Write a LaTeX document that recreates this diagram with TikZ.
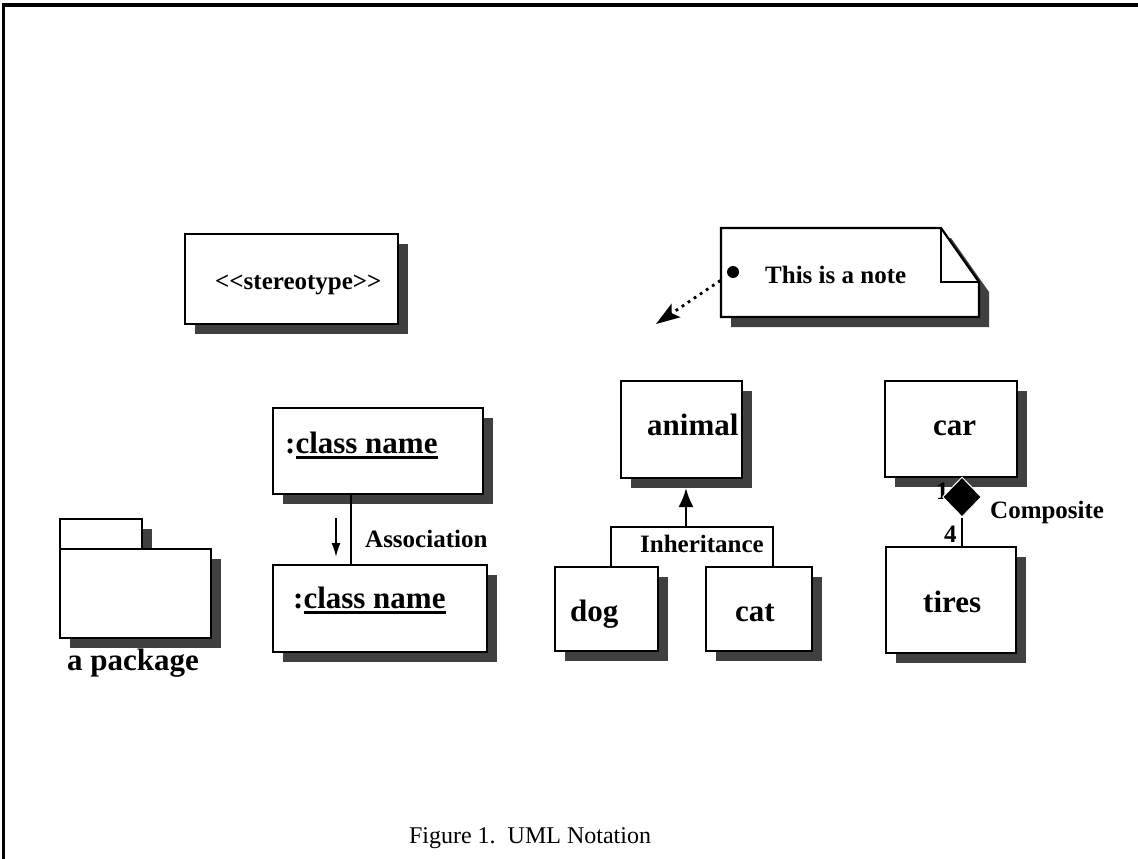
\documentclass[tikz,border=0pt]{standalone}
\usepackage{fontspec}
\newfontfamily\umlserif{Liberation Serif}
\usetikzlibrary{shadows,shapes.geometric,arrows.meta}

% bold label sizes and caption font
\newcommand\umlbig{\umlserif\bfseries\fontsize{31}{36}\selectfont}
\newcommand\umlmid{\umlserif\bfseries\fontsize{25}{30}\selectfont}
\newcommand\umlcap{\umlserif\fontsize{24}{28}\selectfont}
% heavy underline for object names
\newcommand\objname[1]{\setbox0=\hbox{#1}\leavevmode\rlap{\rule[-5.5pt]{\wd0}{2.2pt}}\box0}

\begin{document}
\begin{tikzpicture}[x=1pt,y=-1pt,
  umlshadow/.style={drop shadow={shadow xshift=10pt,shadow yshift=-10pt,fill=black!75,opacity=1}},
  box/.style={draw,line width=2.2pt,fill=white,inner sep=0pt,rectangle,umlshadow},
  big/.style={font=\umlbig,inner sep=0pt,anchor=base west},
  mid/.style={font=\umlmid,inner sep=0pt,anchor=base west},
  link/.style={line width=2pt}]
\useasboundingbox (0,0) rectangle (1138,859);

% page frame (top and left edges)
\draw[line width=3.5pt] (3.5,859) -- (3.5,5) -- (1138,5);

% stereotype
\node[box,minimum width=213pt,minimum height=90pt] (stereo) at (291.5,279) {};
\node[mid] (stereoText) at (215,289) {<\kern0pt<stereotype>\kern0pt>};

% note with folded corner
\draw[line width=2.2pt,fill=white,line join=miter,umlshadow]
  (721,228) -- (941,228) -- (979,282) -- (979,317) -- (721,317) -- cycle;
\draw[line width=2.2pt] (941,228) -- (941,282) -- (979,282);
\node[circle,fill=black,inner sep=0pt,minimum size=12pt] (noteDot) at (733,272) {};
\node[mid] (noteText) at (765,283) {This is a note};
\coordinate (noteTip) at (656,324);
\draw[line width=2.8pt,dash pattern=on 2.8pt off 4.5pt,shorten <=9pt,
  -{Stealth[length=24pt,width=16pt,inset=5pt]}] (noteDot) -- (noteTip);

% package
\node[box,minimum width=82pt,minimum height=30pt] (pkgTab) at (101,534) {};
\node[box,minimum width=151pt,minimum height=89pt] (pkgBody) at (135.5,593.5) {};
\node[big] (pkgLbl) at (67,670) {a package};

% objects with association
\node[box,minimum width=210pt,minimum height=86pt] (obj1) at (378,451) {};
\node[big] (obj1Text) at (285,453) {:\objname{class name}};
\node[box,minimum width=214pt,minimum height=87pt] (obj2) at (380,608.5) {};
\node[big] (obj2Text) at (293,608) {:\objname{class name}};
\coordinate (assocX) at (351,0);
\draw[link] (obj1.south -| assocX) -- (obj2.north -| assocX);
\coordinate (dirA) at (336,518);
\coordinate (dirB) at (336,557);
\draw[line width=1.8pt,-{Latex[length=14pt,width=9pt]}] (dirA) -- (dirB);
\node[mid] (assocLbl) at (365,547) {Association};

% generalization
\node[box,minimum width=121pt,minimum height=97pt] (animal) at (681.5,429.5) {};
\node[big] (animalText) at (647,435) {animal};
\node[box,minimum width=103pt,minimum height=84pt] (dog) at (606.5,609) {};
\node[big] (dogText) at (570,621) {dog};
\node[box,minimum width=106pt,minimum height=84pt] (cat) at (759,609) {};
\node[big] (catText) at (735,621) {cat};
\coordinate (inhL) at (611,527);
\coordinate (inhM) at (686,527);
\coordinate (inhR) at (773,527);
\draw[link] (dog.north -| inhL) -- (inhL) -- (inhR) -- (cat.north -| inhR);
\draw[link,shorten >=9pt,-{Latex[length=19pt,width=15pt]}] (inhM) -- (animal.south -| inhM);
\node[mid] (inhLbl) at (640,552) {Inheritance};

% composition
\node[box,minimum width=132pt,minimum height=96pt] (car) at (951,429) {};
\node[big] (carText) at (933,435) {car};
\node[box,minimum width=130pt,minimum height=106pt] (tires) at (951,600) {};
\node[big] (tiresText) at (923,612) {tires};
\node[mid] (multOne) at (936,499) {1};
\node[diamond,fill=black,draw=white,line width=1pt,inner sep=0pt,
  minimum width=39pt,minimum height=40pt] (compD) at (962,497) {};
\draw[link] (compD.south) -- (compD.south |- tires.north);
\node[mid] (multFour) at (944,542) {4};
\node[mid] (compLbl) at (990,518) {Composite};

% caption
\node[font=\umlcap,inner sep=0pt,anchor=base] (caption) at (530,843) {Figure 1.\ \ UML Notation};
\end{tikzpicture}
\end{document}
